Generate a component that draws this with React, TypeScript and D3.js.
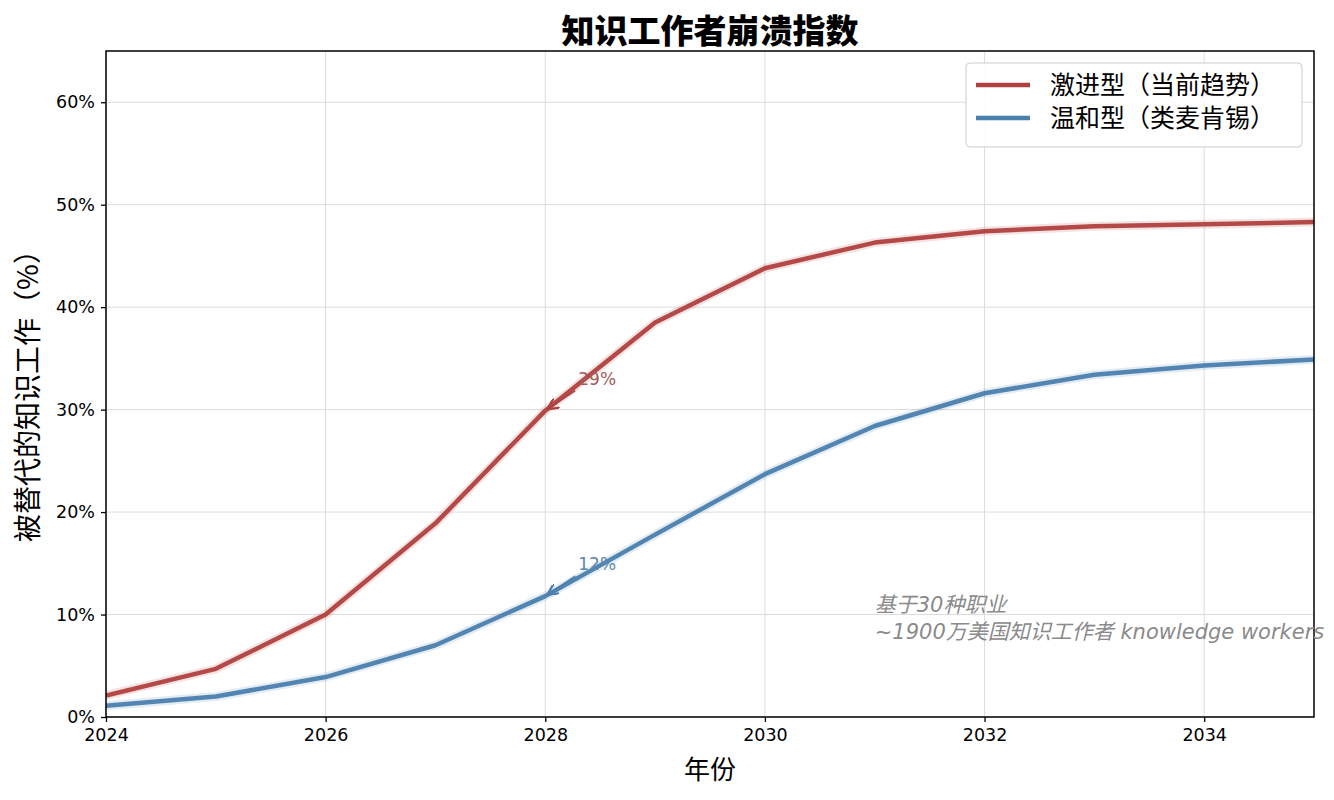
import { useEffect, useRef } from "react";
import * as d3 from "d3";

// Data
const years = [2024, 2025, 2026, 2027, 2028, 2029, 2030, 2031, 2032, 2033, 2034, 2035];
const aggressive = [2.1, 4.7, 10.0, 18.9, 29.9, 38.5, 43.8, 46.3, 47.4, 47.9, 48.1, 48.3];
const moderate = [1.1, 2.0, 3.9, 7.0, 11.8, 17.8, 23.7, 28.4, 31.6, 33.4, 34.3, 34.9];
const seriesNames = ["激进型（当前趋势）", "温和型（类麦肯锡）"];
const seriesColors = ["#b0403f", "#4a80ad"];
const xTicks = [2024, 2026, 2028, 2030, 2032, 2034];
const yTicks = [0, 10, 20, 30, 40, 50, 60];
const annotations = [
  { year: 2028, value: 29.9, label: "29%", color: "#b0403f", textColor: "#a35a58" },
  { year: 2028, value: 11.8, label: "12%", color: "#4a80ad", textColor: "#5a88ad" },
];

const W = 1334;
const H = 800;
const margin = { top: 51, right: 20, bottom: 83, left: 106 };
const FONT = "'DejaVu Sans', 'Noto Sans CJK SC', sans-serif";
const CJK = "'Noto Sans CJK SC', 'DejaVu Sans', sans-serif";

const App = () => {
  const ref = useRef<SVGSVGElement | null>(null);

  useEffect(() => {
    document.body.style.margin = "0";
    if (!ref.current) return;
    const root = d3.select(ref.current);
    root.selectAll("*").remove();

    const iw = W - margin.left - margin.right;
    const ih = H - margin.top - margin.bottom;

    root.append("rect").attr("width", W).attr("height", H).attr("fill", "white");

    const x = d3.scaleLinear().domain([2024, 2035]).range([0, iw]);
    const y = d3.scaleLinear().domain([0, 65]).range([ih, 0]);

    const g = root.append("g").attr("transform", `translate(${margin.left},${margin.top})`);

    // grid
    g.append("g")
      .selectAll("line")
      .data(xTicks)
      .enter()
      .append("line")
      .attr("x1", (d) => x(d))
      .attr("x2", (d) => x(d))
      .attr("y1", 0)
      .attr("y2", ih)
      .attr("stroke", "#dcdcdc")
      .attr("stroke-width", 1);
    g.append("g")
      .selectAll("line")
      .data(yTicks)
      .enter()
      .append("line")
      .attr("x1", 0)
      .attr("x2", iw)
      .attr("y1", (d) => y(d))
      .attr("y2", (d) => y(d))
      .attr("stroke", "#dcdcdc")
      .attr("stroke-width", 1);

    // lines
    const line = d3
      .line<number>()
      .x((_, i) => x(years[i]))
      .y((d) => y(d));

    const defs = root.append("defs");
    defs
      .append("clipPath")
      .attr("id", "plotclip")
      .append("rect")
      .attr("width", iw)
      .attr("height", ih);

    const lines = g.append("g").attr("clip-path", "url(#plotclip)");
    [aggressive, moderate].forEach((s, i) => {
      lines
        .append("path")
        .attr("d", line(s))
        .attr("fill", "none")
        .attr("stroke", seriesColors[i])
        .attr("stroke-opacity", 0.15)
        .attr("stroke-width", 9)
        .attr("stroke-linejoin", "round");
      lines
        .append("path")
        .attr("d", line(s))
        .attr("fill", "none")
        .attr("stroke", seriesColors[i])
        .attr("stroke-opacity", 0.95)
        .attr("stroke-width", 4.5)
        .attr("stroke-linejoin", "round");
    });

    // annotations
    annotations.forEach((a, i) => {
      defs
        .append("marker")
        .attr("id", `arr${i}`)
        .attr("viewBox", "0 0 10 10")
        .attr("refX", 9)
        .attr("refY", 5)
        .attr("markerWidth", 7)
        .attr("markerHeight", 7)
        .attr("orient", "auto")
        .append("path")
        .attr("d", "M0,0 L10,5 L0,10")
        .attr("fill", "none")
        .attr("stroke", a.color)
        .attr("stroke-width", 2);
      const px = x(a.year);
      const py = y(a.value);
      g.append("line")
        .attr("x1", px + 30)
        .attr("y1", py - 20)
        .attr("x2", px + 3)
        .attr("y2", py - 2)
        .attr("stroke", a.color)
        .attr("stroke-width", 1.6)
        .attr("marker-end", `url(#arr${i})`);
      g.append("text")
        .attr("x", px + 33)
        .attr("y", py - 26)
        .attr("font-family", FONT)
        .attr("font-size", 17)
        .attr("fill", a.textColor)
        .text(a.label);
    });

    // axes
    const xAxis = g
      .append("g")
      .attr("transform", `translate(0,${ih})`)
      .call(d3.axisBottom(x).tickValues(xTicks).tickFormat(d3.format("d")).tickSize(5).tickPadding(7));
    xAxis.select(".domain").remove();
    xAxis.selectAll("text").attr("font-family", FONT).attr("font-size", 17.5).attr("fill", "#000");
    xAxis.selectAll("line").attr("stroke", "#000").attr("stroke-width", 1.3);

    const yAxis = g
      .append("g")
      .call(d3.axisLeft(y).tickValues(yTicks).tickFormat((d) => `${d}%`).tickSize(5).tickPadding(6));
    yAxis.select(".domain").remove();
    yAxis.selectAll("text").attr("font-family", FONT).attr("font-size", 17.5).attr("fill", "#000");
    yAxis.selectAll("line").attr("stroke", "#000").attr("stroke-width", 1.3);

    // spines
    g.append("rect")
      .attr("width", iw)
      .attr("height", ih)
      .attr("fill", "none")
      .attr("stroke", "#000")
      .attr("stroke-width", 1.5);

    // note text
    const note = g
      .append("text")
      .attr("font-family", FONT)
      .attr("font-size", 21)
      .attr("font-style", "italic")
      .attr("fill", "#8a8a8a");
    note.append("tspan").attr("x", x(2031)).attr("y", y(10.2)).text("基于30种职业");
    note.append("tspan").attr("x", x(2031)).attr("y", y(7.6)).text("~1900万美国知识工作者 knowledge workers");

    // legend
    const lg = root.append("g").attr("transform", "translate(966,63)");
    lg.append("rect")
      .attr("width", 336)
      .attr("height", 84)
      .attr("rx", 4)
      .attr("fill", "rgba(255,255,255,0.9)")
      .attr("stroke", "#cccccc");
    seriesNames.forEach((n, i) => {
      const cy = 22 + i * 33;
      lg.append("line")
        .attr("x1", 10)
        .attr("x2", 64)
        .attr("y1", cy)
        .attr("y2", cy)
        .attr("stroke", seriesColors[i])
        .attr("stroke-width", 4.5);
      lg.append("text")
        .attr("x", 84)
        .attr("y", cy + 9)
        .attr("font-family", CJK)
        .attr("font-size", 25)
        .attr("fill", "#000")
        .text(n);
    });

    // titles
    root
      .append("text")
      .attr("x", margin.left + iw / 2)
      .attr("y", 43)
      .attr("text-anchor", "middle")
      .attr("font-family", CJK)
      .attr("font-weight", 900)
      .attr("font-size", 33)
      .attr("fill", "#000")
      .text("知识工作者崩溃指数");

    root
      .append("text")
      .attr("x", margin.left + iw / 2)
      .attr("y", 779)
      .attr("text-anchor", "middle")
      .attr("font-family", CJK)
      .attr("font-size", 26)
      .attr("fill", "#000")
      .text("年份");

    root
      .append("text")
      .attr("transform", `translate(38,${margin.top + ih / 2 + 5}) rotate(-90)`)
      .attr("text-anchor", "middle")
      .attr("font-family", CJK)
      .attr("font-size", 28)
      .attr("fill", "#000")
      .text("被替代的知识工作（%）");
  }, []);

  return <svg ref={ref} width={W} height={H} style={{ display: "block" }} />;
};

export default App;
